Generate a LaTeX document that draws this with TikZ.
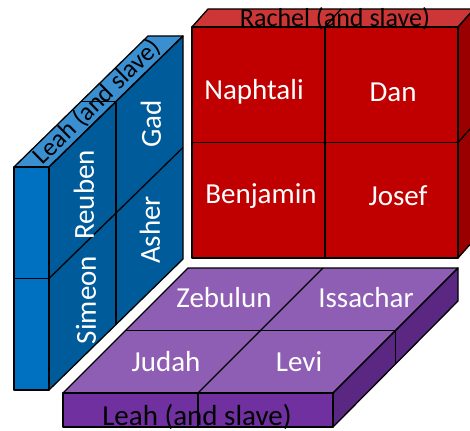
\documentclass[tikz,border=0pt]{standalone}
\usepackage{fontspec}
\setmainfont{Carlito}
\definecolor{redfront}{HTML}{C00000}
\definecolor{redtop}{HTML}{CC3636}
\definecolor{redside}{HTML}{9A0000}
\definecolor{bluefront}{HTML}{0070C0}
\definecolor{blueside}{HTML}{005B9A}
\definecolor{bluetop}{HTML}{3A8FD0}
\definecolor{purpfront}{HTML}{7030A0}
\definecolor{purptop}{HTML}{8E5DB4}
\definecolor{purpside}{HTML}{5A2883}
\begin{document}
\begin{tikzpicture}[x=1pt,y=-1pt,
  face/.style={draw=black,line width=1.3pt,line join=round},
  edge/.style={draw=black,line width=1.3pt},
  lbl/.style={text=white,font=\fontsize{29}{31}\selectfont,inner sep=0pt},
  blacklbl/.style={text=black,inner sep=0pt,anchor=base}]
\useasboundingbox (0,0) rectangle (470,430);
\clip (0,0) rectangle (470,430);
% ---- Rachel block (red)
\fill[redtop] (192,27) -- (458,27) -- (474,9) -- (208,9) -- cycle;
\fill[redside] (458,27) -- (474,9) -- (474,240) -- (458,258) -- cycle;
\fill[redfront] (192,27) rectangle (458,258);
\node[blacklbl,font=\fontsize{26}{28}\selectfont] (rachel) at (335,26.5) {Rachel (and slave)};
\draw[face] (192,27) -- (458,27) -- (474,9) -- (208,9) -- cycle;
\draw[face] (458,27) -- (474,9) -- (474,240) -- (458,258) -- cycle;
\draw[face] (192,27) rectangle (458,258);
\draw[edge] (325,27) -- (341,9);
\draw[edge] (458,142.5) -- (474,124.5);
\draw[edge] (325,27) -- (325,258);
\draw[edge] (192,142.5) -- (458,142.5);
\node[lbl] (naphtali) at (254,92) {Naphtali};
\node[lbl] (dan) at (393,92) {Dan};
\node[lbl] (benjamin) at (261,196) {Benjamin};
\node[lbl] (josef) at (398,196) {Josef};
% ---- Leah block (blue)
\fill[bluetop] (14,167) -- (49,167) -- (183,36) -- (148,36) -- cycle;
\fill[bluefront] (14,167) rectangle (49,390);
\fill[blueside] (49,167) -- (183,36) -- (183,259) -- (49,390) -- cycle;
\node[blacklbl,font=\fontsize{25.5}{27}\selectfont,rotate=44.4] (leahb) at (102.5,107.5) {Leah (and slave)};
\draw[face] (14,167) -- (49,167) -- (183,36) -- (148,36) -- cycle;
\draw[face] (14,167) rectangle (49,390);
\draw[face] (49,167) -- (183,36) -- (183,259) -- (49,390) -- cycle;
\draw[edge] (81,101.5) -- (116,101.5);
\draw[edge] (14,278.5) -- (49,278.5);
\draw[edge] (116,101.5) -- (116,324.5);
\draw[edge] (49,278.5) -- (183,147.5);
\node[lbl,rotate=90] (reuben) at (84,195) {Reuben};
\node[lbl,rotate=90] (simeon) at (86,300) {Simeon};
\node[lbl,rotate=90] (gad) at (151,124) {Gad};
\node[lbl,rotate=90] (asher) at (150,230) {Asher};
% ---- Leah block (purple)
\fill[purptop] (63,393) -- (333,393) -- (458,268) -- (188,268) -- cycle;
\fill[purpfront] (63,393) rectangle (333,427);
\fill[purpside] (333,393) -- (458,268) -- (458,301) -- (333,427) -- cycle;
\node[blacklbl,font=\fontsize{29}{31}\selectfont] (leahp) at (197,425) {Leah (and slave)};
\draw[face] (63,393) -- (333,393) -- (458,268) -- (188,268) -- cycle;
\draw[face] (63,393) rectangle (333,427);
\draw[face] (333,393) -- (458,268) -- (458,301) -- (333,427) -- cycle;
\draw[edge] (125.5,330.5) -- (395.5,330.5);
\draw[edge] (198,393) -- (323,268);
\draw[edge] (198,393) -- (198,427);
\draw[edge] (395.5,330.5) -- (395.5,363.5);
\node[lbl] (zebulun) at (224,298) {Zebulun};
\node[lbl] (issachar) at (366,298) {Issachar};
\node[lbl] (judah) at (166,362) {Judah};
\node[lbl] (levi) at (299,362) {Levi};
\end{tikzpicture}
\end{document}
